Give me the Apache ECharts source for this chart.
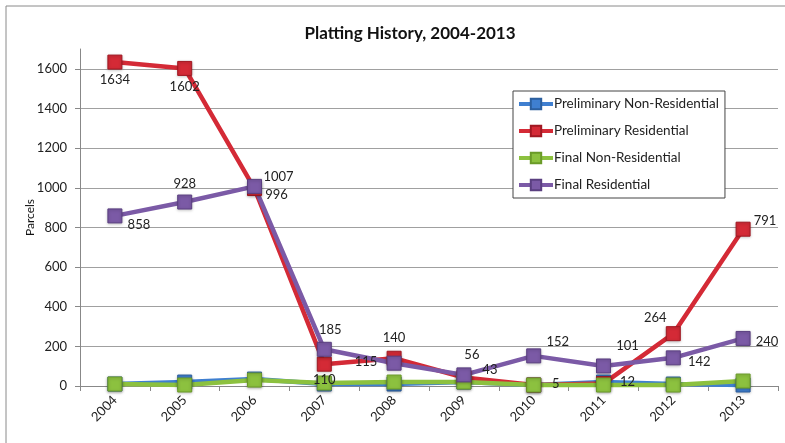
<!DOCTYPE html>
<html>
<head>
<meta charset="utf-8">
<script src="https://cdn.jsdelivr.net/npm/echarts@6/dist/echarts.min.js"></script>
<style>
  html, body { margin: 0; padding: 0; background: #fff; }
  #chart { width: 785px; height: 443px; }
</style>
</head>
<body>
<div id="chart"></div>
<script>
// Platting history by year, 2004-2013
const years = ['2004', '2005', '2006', '2007', '2008', '2009', '2010', '2011', '2012', '2013'];
const prelimNonRes = [10, 20, 35, 10, 10, 20, 5, 20, 10, 5];
const prelimRes = [1634, 1602, 996, 110, 140, 43, 5, 12, 264, 791];
const finalNonRes = [10, 5, 30, 15, 20, 20, 5, 5, 5, 25];
const finalRes = [858, 928, 1007, 185, 115, 56, 152, 101, 142, 240];

// label placement for the labelled series (offset in px from marker)
const prelimResLabelOffsets = [[0, 18], [0, 18], [22, 6], [0, 16], [0, -20], [26, -8], [22, -1], [24, -2], [-18, -16], [22, -8]];
const finalResLabelOffsets = [[24, 9], [0, -18], [24, -10], [6, -20], [-28, -1], [8, -20], [24, -14], [24, -20], [26, 4], [24, 3]];

const font = 'Lato, "Open Sans", sans-serif';

function labelled(values, offsets) {
  return values.map((v, i) => ({
    value: v,
    label: { show: true, position: 'inside', offset: offsets[i] }
  }));
}

function lineSeries(name, color, border, data) {
  return {
    name: name,
    type: 'line',
    data: data,
    symbol: 'rect',
    symbolSize: 14,
    lineStyle: { width: 4.5, color: color },
    itemStyle: {
      color: color,
      borderColor: border,
      borderWidth: 1,
      shadowColor: 'rgba(0,0,0,0.25)',
      shadowBlur: 3,
      shadowOffsetY: 1
    },
    label: {
      show: false,
      color: '#222',
      fontFamily: font,
      fontSize: 13,
      formatter: '{c}'
    },
    emphasis: { disabled: true },
    animation: false
  };
}

const chart = echarts.init(document.getElementById('chart'), null, { renderer: 'canvas' });

chart.setOption({
  backgroundColor: '#fff',
  animation: false,
  graphic: [{
    type: 'rect',
    shape: { x: 6, y: 6, width: 900, height: 600 },
    style: { fill: 'none', stroke: '#8a8a8a', lineWidth: 1 },
    silent: true,
    z: -1
  }],
  title: {
    text: 'Platting History, 2004-2013',
    left: 405,
    textAlign: 'center',
    top: 20,
    textStyle: { fontFamily: font, fontSize: 17, fontWeight: 'bold', color: '#111' }
  },
  legend: {
    orient: 'vertical',
    left: 513,
    top: 91,
    padding: [6, 6, 6, 4],
    itemWidth: 34,
    itemHeight: 13,
    itemGap: 13,
    borderColor: '#444',
    borderWidth: 1,
    backgroundColor: '#fff',
    lineStyle: { width: 4 },
    textStyle: { fontFamily: font, fontSize: 13.5, color: '#222', padding: [0, 0, 0, -4] },
    data: ['Preliminary Non-Residential', 'Preliminary Residential', 'Final Non-Residential', 'Final Residential']
  },
  grid: { left: 80, right: 7, top: 49, bottom: 57, containLabel: false },
  xAxis: {
    type: 'category',
    data: years,
    boundaryGap: true,
    axisLine: { lineStyle: { color: '#888' } },
    axisTick: { show: true, length: 5, lineStyle: { color: '#888' } },
    axisLabel: { rotate: 45, fontFamily: font, fontSize: 13, color: '#222', margin: 12 }
  },
  yAxis: {
    type: 'value',
    min: 0,
    max: 1700,
    interval: 200,
    name: 'Parcels',
    nameLocation: 'middle',
    nameGap: 44,
    nameMoveOverlap: false,
    nameRotate: 90,
    nameTextStyle: { fontFamily: font, fontSize: 12, color: '#111' },
    axisLine: { show: true, lineStyle: { color: '#888' } },
    axisTick: { show: true, length: 5, lineStyle: { color: '#888' } },
    axisLabel: {
      fontFamily: font, fontSize: 13, color: '#222', margin: 13,
      showMaxLabel: false,
      formatter: v => (v % 200 === 0 ? String(v) : '')
    },
    splitLine: { show: true, showMaxLine: false, lineStyle: { color: '#a0a0a0', width: 1 } }
  },
  series: [
    lineSeries('Preliminary Non-Residential', '#3f7fd0', '#2c5f9e', prelimNonRes),
    lineSeries('Preliminary Residential', '#d42a36', '#a01822', labelled(prelimRes, prelimResLabelOffsets)),
    lineSeries('Final Non-Residential', '#8cc13f', '#6a9a28', finalNonRes),
    lineSeries('Final Residential', '#7b5aa6', '#5a3f80', labelled(finalRes, finalResLabelOffsets))
  ]
});
</script>
</body>
</html>
